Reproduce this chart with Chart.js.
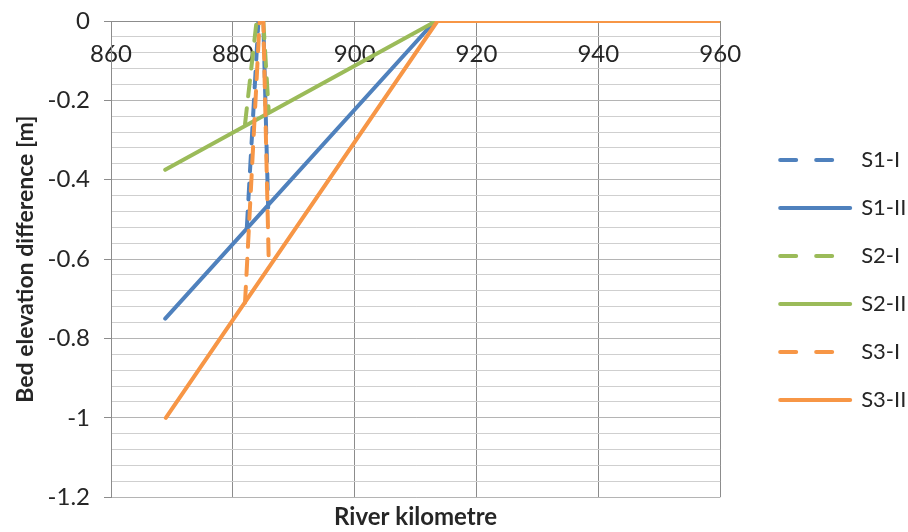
<!DOCTYPE html>
<html>
<head>
<meta charset="utf-8">
<script src="https://cdn.jsdelivr.net/npm/chart.js@4/dist/chart.umd.min.js"></script>
<style>
  html, body { margin: 0; padding: 0; background: #ffffff; }
  #wrap { width: 908px; height: 532px; }
</style>
</head>
<body>
<div id="wrap"><canvas id="chart" width="908" height="532"></canvas></div>
<script>
// River kilometre positions and bed elevation differences [m] per scenario
const s1iKm   = [882.3, 884.2, 885.0, 885.8];
const s1iDiff = [-0.52, 0, 0, -0.47];
const s1iiKm   = [868.9, 913.2, 960];
const s1iiDiff = [-0.75, 0, 0];

const s2iKm   = [882.0, 883.9, 885.0, 885.9];
const s2iDiff = [-0.26, 0, 0, -0.23];
const s2iiKm   = [868.9, 913.4, 960];
const s2iiDiff = [-0.375, 0, 0];

const s3iKm   = [882.0, 884.4, 885.0, 885.9];
const s3iDiff = [-0.71, 0, 0, -0.61];
const s3iiKm   = [869.0, 913.6, 960];
const s3iiDiff = [-1.0, 0, 0];

const seriesNames = ['S1-I', 'S1-II', 'S2-I', 'S2-II', 'S3-I', 'S3-II'];
const xTickValues = [860, 880, 900, 920, 940, 960];
const yTickValues = [0, -0.2, -0.4, -0.6, -0.8, -1, -1.2];

const BLUE = '#4F81BD', GREEN = '#9BBB59', ORANGE = '#F79646';
const TEXT = '#262626';
Chart.defaults.font.family = 'Lato, "Open Sans", sans-serif';

function pts(xs, ys) { return xs.map((x, i) => ({ x: x, y: ys[i] })); }

const seriesData = [
  [s1iKm, s1iDiff], [s1iiKm, s1iiDiff],
  [s2iKm, s2iDiff], [s2iiKm, s2iiDiff],
  [s3iKm, s3iDiff], [s3iiKm, s3iiDiff]
];
const seriesColors = [BLUE, BLUE, GREEN, GREEN, ORANGE, ORANGE];
const dashedSeries = [true, false, true, false, true, false];

const datasets = seriesNames.map((name, i) => ({
  label: name,
  data: pts(seriesData[i][0], seriesData[i][1]),
  borderColor: seriesColors[i],
  backgroundColor: seriesColors[i],
  borderWidth: 4,
  borderDash: dashedSeries[i] ? [16, 12] : [],
  borderCapStyle: 'round',
  borderJoinStyle: 'round',
  pointRadius: 0,
  pointHoverRadius: 0,
  tension: 0,
  fill: false,
  // later series are painted above earlier ones
  order: seriesNames.length - i
}));

const isMajorY = v => Math.abs(Math.round(v * 100)) % 20 === 0;

new Chart(document.getElementById('chart'), {
  type: 'line',
  data: { datasets: datasets },
  options: {
    responsive: false,
    animation: false,
    events: [],
    layout: { padding: { top: 21, left: 0, right: 3, bottom: 0 } },
    scales: {
      x: {
        type: 'linear',
        position: { y: 0 },
        min: 860, max: 960,
        afterBuildTicks: s => { s.ticks = xTickValues.map(v => ({ value: v })); },
        ticks: {
          color: TEXT, font: { size: 24 }, padding: 19, maxRotation: 0,
          callback: v => String(v)
        },
        grid: { color: '#8c8c8c', lineWidth: 1, drawTicks: false },
        border: { display: true, color: '#8c8c8c', width: 1 }
      },
      y: {
        type: 'linear',
        position: 'left',
        min: -1.2, max: 0,
        ticks: {
          stepSize: 0.04, color: TEXT, font: { size: 24 }, padding: 14, autoSkip: false,
          callback: v => {
            if (!isMajorY(v)) return '';
            const r = Math.round(v * 10) / 10;
            return yTickValues.includes(r) ? String(r) : '';
          }
        },
        grid: {
          color: c => isMajorY(c.tick.value) ? '#b4b4b4' : '#cfcfcf',
          tickColor: c => isMajorY(c.tick.value) ? '#8c8c8c' : 'rgba(0,0,0,0)',
          tickLength: 7, lineWidth: 1
        },
        border: { display: true, color: '#8c8c8c', width: 1 },
        title: {
          display: true, text: 'Bed elevation difference [m]', color: TEXT,
          font: { size: 23, weight: 'bold' }, padding: { top: 12, bottom: 0 }
        },
        afterFit: s => { s.width = 111; s.paddingTop = 12; s.paddingBottom = 12; }
      },
      gap: {
        type: 'linear',
        position: 'right',
        display: true,
        ticks: { display: false },
        grid: { display: false, drawTicks: false },
        border: { display: false },
        afterFit: s => { s.width = 34; }
      }
    },
    plugins: {
      tooltip: { enabled: false },
      title: {
        display: true, position: 'bottom', fullSize: false,
        text: 'River kilometre', color: TEXT,
        font: { size: 24, weight: 'bold' }, padding: { top: 6, bottom: 0 }
      },
      legend: {
        display: true, position: 'right', align: 'center',
        title: { display: true, text: '', font: { size: 6 }, padding: 0 },
        labels: {
          usePointStyle: true, pointStyle: 'line', pointStyleWidth: 70,
          boxHeight: 22, padding: 26, color: TEXT, font: { size: 22 },
          generateLabels: chart => chart.data.datasets.map((ds, i) => ({
            text: ds.label,
            strokeStyle: ds.borderColor,
            fillStyle: ds.borderColor,
            fontColor: TEXT,
            lineWidth: 4,
            lineCap: 'round',
            lineDash: dashedSeries[i] ? [16, 20] : [],
            pointStyle: 'line',
            hidden: false,
            datasetIndex: i
          }))
        }
      }
    }
  }
});
</script>
</body>
</html>
